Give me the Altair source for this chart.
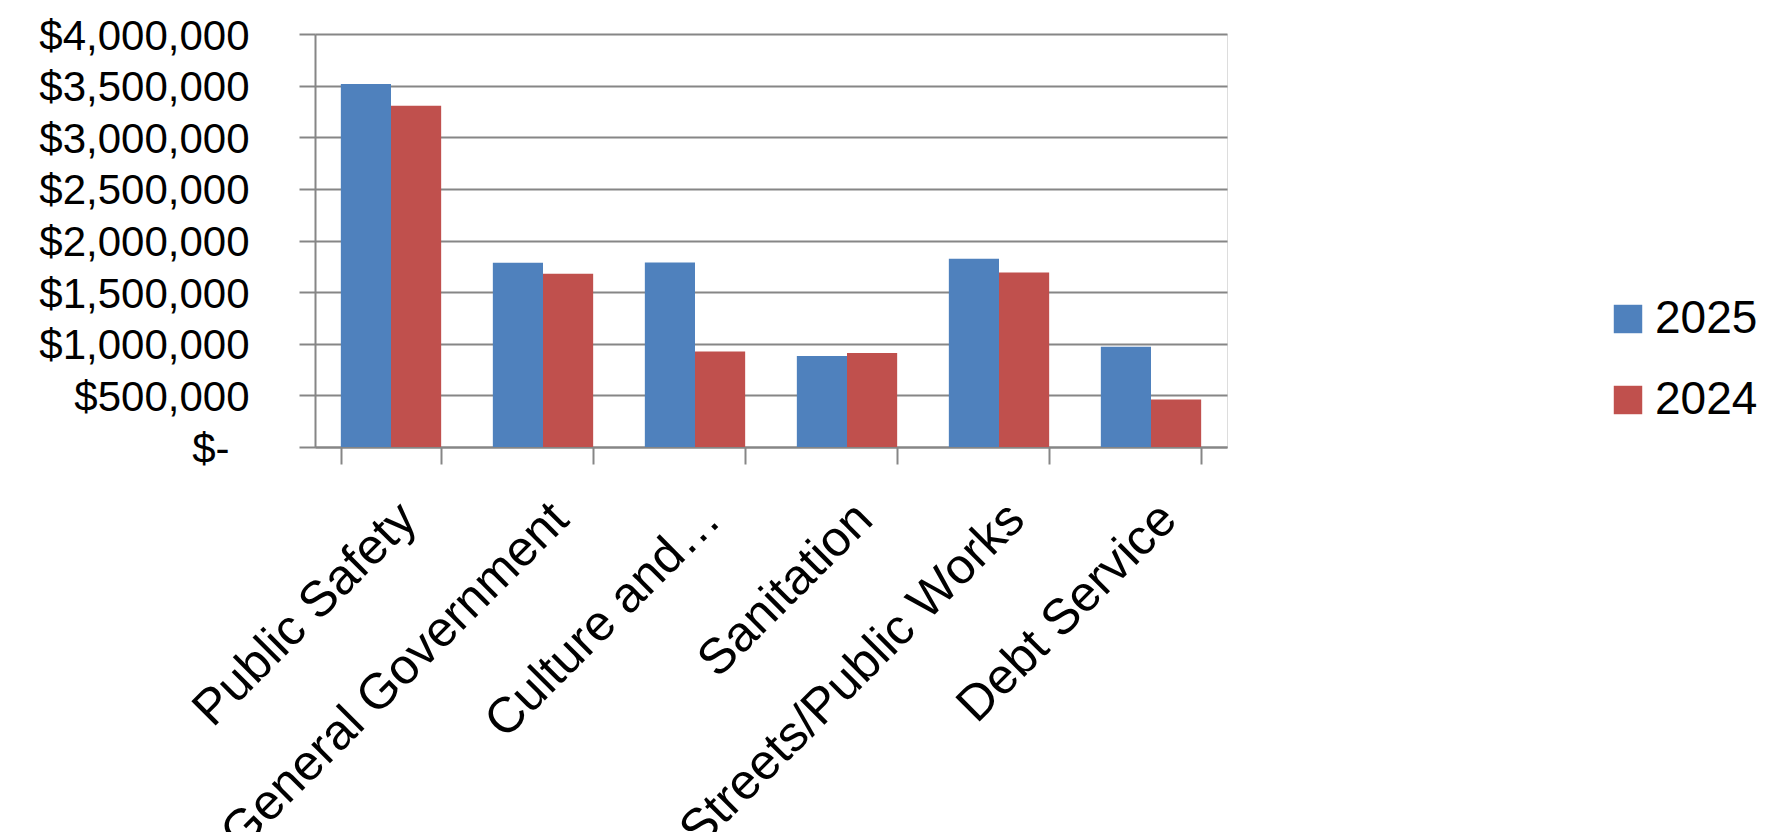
import altair as alt
import pandas as pd

categories = ["Public Safety", "General Government", "Culture and…", "Sanitation",
              "Streets/Public Works", "Debt Service"]
years = ["2025", "2024"]
values_2025 = [3515000, 1784000, 1787000, 881000, 1823000, 971000]
values_2024 = [3306000, 1677000, 926000, 910000, 1690000, 461000]
colors = ["#4F81BD", "#C0504D"]
y_ticks = [0, 500000, 1000000, 1500000, 2000000, 2500000, 3000000, 3500000, 4000000]

rows = []
for c, a, b in zip(categories, values_2025, values_2024):
    rows.append({"category": c, "year": "2025", "value": a})
    rows.append({"category": c, "year": "2024", "value": b})
df = pd.DataFrame(rows)

FONT = "Liberation Sans"
GRID = "#868686"

chart = alt.Chart(df).mark_bar().encode(
    x=alt.X("category:N", sort=categories,
            scale=alt.Scale(paddingInner=0.34, paddingOuter=0.17),
            axis=alt.Axis(title=None, labelAngle=-45, labelAlign="right",
                          labelBaseline="middle", labelPadding=47, labelOffset=17,
                          labelFont=FONT, labelFontSize=50, labelColor="black",
                          labelLimit=0, tickBand="extent", tickSize=17,
                          tickColor=GRID, tickWidth=2, domainColor=GRID,
                          domainWidth=2, grid=False, labelOverlap=False)),
    xOffset=alt.XOffset("year:N", sort=years),
    y=alt.Y("value:Q", scale=alt.Scale(domain=[0, 4000000], nice=False),
            axis=alt.Axis(title=None, values=y_ticks,
                          labelExpr="datum.value == 0 ? '$-' : '$' + format(datum.value, ',')",
                          labelFont=FONT, labelFontSize=42, labelColor="black",
                          labelLimit=0, labelOffset=2,
                          labelPadding={"condition": {"test": "datum.value === 0", "value": 70},
                                        "value": 50},
                          tickSize=16, tickColor=GRID,
                          tickWidth=2, domainColor=GRID, domainWidth=2,
                          grid=True, gridColor=GRID, gridWidth=2,
                          labelBaseline="middle", labelOverlap=False)),
    color=alt.Color("year:N", sort=years,
                    scale=alt.Scale(domain=years, range=colors),
                    legend=alt.Legend(orient="none", legendX=1290, legendY=262,
                                      title=None, symbolType="square",
                                      symbolSize=810, symbolStrokeWidth=0,
                                      labelFont=FONT, labelFontSize=46,
                                      labelColor="black", labelOffset=4,
                                      labelLimit=0, rowPadding=35)),
).properties(
    width=912, height=413,
    autosize=alt.AutoSizeParams(type="none"),
    padding={"left": 315, "top": 34, "right": 556, "bottom": 385},
).configure_view(stroke=None).configure(background="white")

chart.save("out.html", embed_options={"renderer": "svg", "actions": False})
